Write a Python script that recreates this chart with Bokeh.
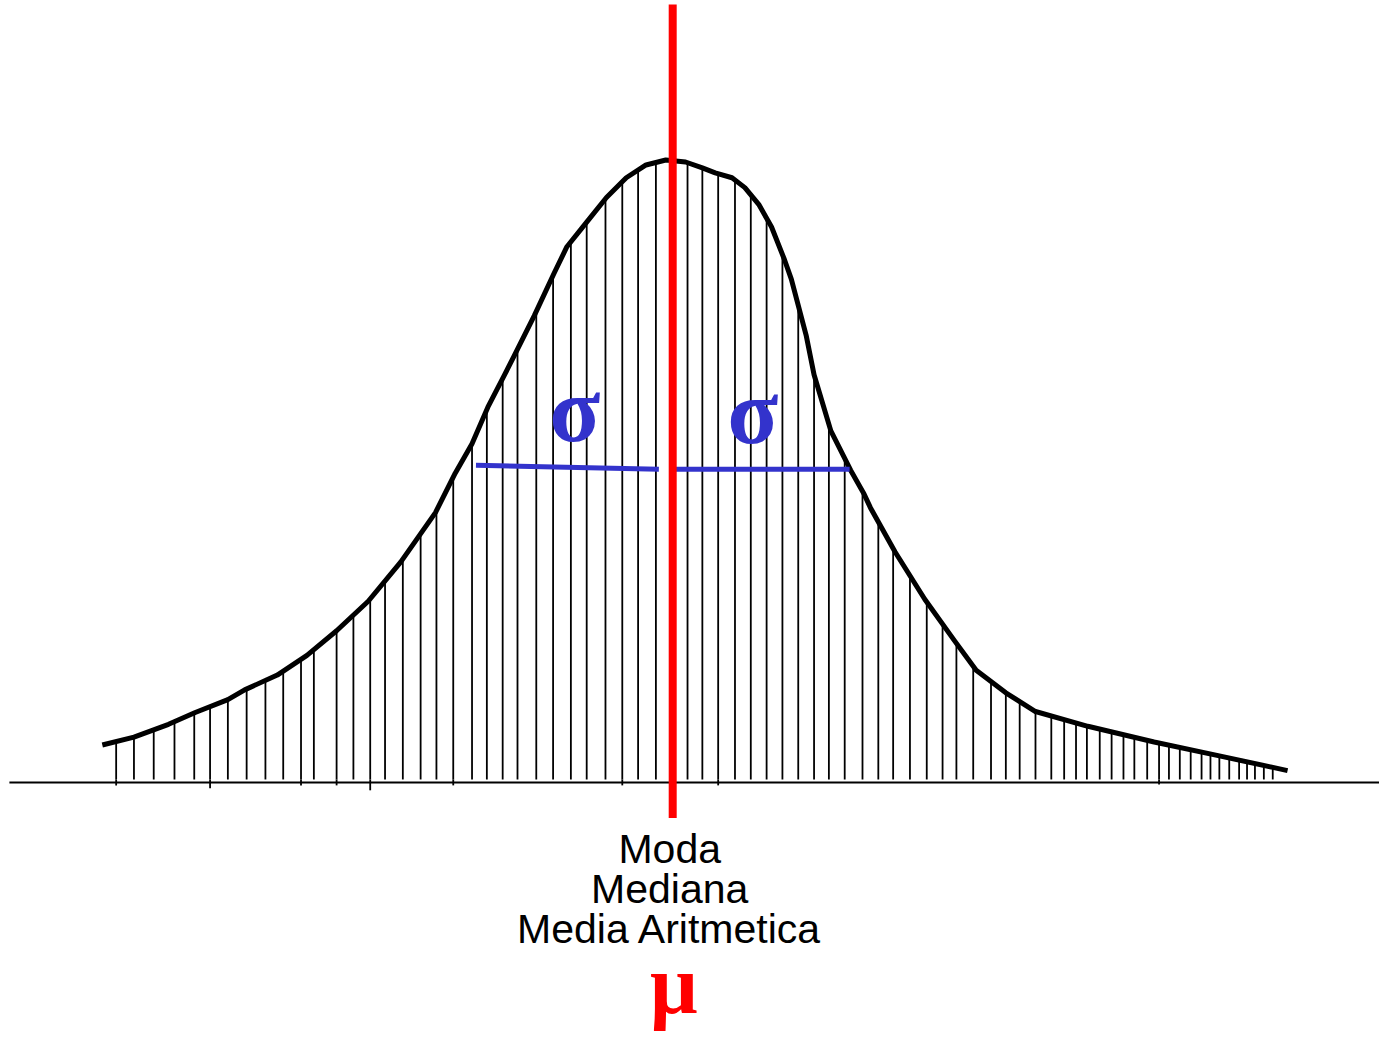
from bokeh.plotting import figure
from bokeh.models import Range1d
from bokeh.embed import file_html
from bokeh.resources import INLINE
from bokeh.core.properties import value
import numpy as np

# Curve (x position, height above the baseline)
curve_x = [103, 135, 170, 197, 230, 247, 280, 310, 340, 372, 405, 440, 460, 477, 493, 510, 520, 540, 560,
           573, 593, 613, 633, 653, 673, 693, 710, 723, 740, 753, 767, 780, 793, 800, 815, 823, 840, 860,
           873, 880, 905, 935, 965, 987, 1017, 1047, 1100, 1167, 1233, 1302]
curve_h = [38, 46, 59, 71, 84, 94, 109, 129, 154, 184, 224, 274, 314, 344, 381, 414, 434, 474, 517,
           544, 569, 594, 614, 627, 632, 630, 624, 619, 614, 604, 587, 564, 531, 511, 454, 414, 357, 317,
           294, 279, 234, 186, 144, 114, 91, 72, 57, 41, 27, 12]

# Vertical hatch lines
hatch_x = [117, 135, 155, 176, 196, 212, 230, 249, 268, 286, 304, 317, 340, 357, 374, 389, 407, 425, 441,
           458, 477, 492, 508, 523, 542, 559, 577, 593, 612, 629, 645, 663, 695, 710, 726, 743, 759, 775,
           791, 807, 823, 838, 854, 872, 888, 903, 920, 937, 953, 967, 984, 1002, 1017, 1031, 1047, 1063,
           1076, 1088, 1099, 1112, 1124, 1136, 1147, 1160, 1172, 1182, 1193, 1204, 1215, 1224, 1233, 1243,
           1253, 1261, 1269, 1278, 1287]

# Small ticks that cross the baseline
tick_x = [117, 212, 304, 340, 374, 458, 629, 726, 1172]
tick_depth = [3, 6, 3, 3, 8, 3, 3, 3, 2]

mu_x = 680
mu_top = 790
mu_bottom = -36

sigma_left_x = [481, 666]
sigma_left_y = [322, 318]
sigma_right_x = [683, 859]
sigma_right_y = [318, 318]
sigma_label_x = [581, 761]
sigma_label_y = [379, 377]

labels = ["Moda", "Mediana", "Media Aritmetica"]
labels_y = [-68, -108, -149]
mu_label_y = -205

W, H = 1379, 1036
p = figure(width=W, height=H, output_backend="svg", toolbar_location=None,
           x_range=Range1d(0, 1395), y_range=Range1d(794 - 1052, 794),
           min_border=0, background_fill_color="white", border_fill_color="white")
p.axis.visible = False
p.grid.visible = False
p.outline_line_color = None

# baseline
p.segment(x0=[9], y0=[0], x1=[1395], y1=[0], line_color="black", line_width=2)

# hatch lines up to the curve
hx = np.array(hatch_x, dtype=float)
htop = np.interp(hx, curve_x, curve_h)
p.segment(x0=hx, y0=np.full(len(hx), 3.0), x1=hx, y1=htop, line_color="black", line_width=1.8)

# ticks below baseline
p.segment(x0=tick_x, y0=[-d for d in tick_depth], x1=tick_x, y1=[3] * len(tick_x),
          line_color="black", line_width=1.8)

# curve
p.line(curve_x, curve_h, line_color="black", line_width=5, line_join="round")

# sigma lines
p.line(sigma_left_x, sigma_left_y, line_color="#3333CC", line_width=5)
p.line(sigma_right_x, sigma_right_y, line_color="#3333CC", line_width=5)
p.text(x=sigma_label_x, y=sigma_label_y, text=["σ", "σ"], text_color="#3333CC",
       text_font=value("Liberation Serif"), text_font_style="bold", text_font_size="94px",
       text_align="center", text_baseline="alphabetic")

# mean line
p.segment(x0=[mu_x], y0=[mu_bottom], x1=[mu_x], y1=[mu_top], line_color="#FF0000", line_width=8)

# labels
p.text(x=[677] * 3, y=labels_y, text=labels, text_color="black",
       text_font=value("Liberation Sans"), text_font_size="41px",
       text_align="center", text_baseline="alphabetic")
p.text(x=[681], y=[mu_label_y], text=["μ"], text_color="#FF0000",
       text_font=value("Liberation Serif"), text_font_style="bold", text_font_size="84px",
       text_align="center", text_baseline="alphabetic")

open("out.html", "w").write(file_html(p, INLINE))
